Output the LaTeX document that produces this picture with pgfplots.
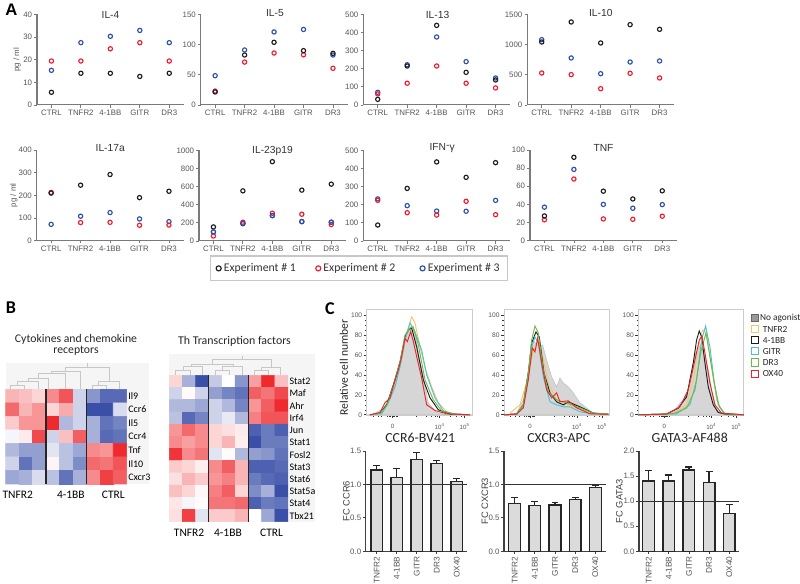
\documentclass[border=0pt]{standalone}
\usepackage{fontspec}
\setmainfont{Liberation Sans}
\newfontfamily\carlito{Carlito}
\usepackage{pgfplots}
\pgfplotsset{compat=1.18}

\definecolor{tickgray}{HTML}{555555}
\definecolor{axisgray}{HTML}{7A7A7A}
\definecolor{frame}{HTML}{CCCCCC}
\definecolor{expk}{HTML}{1C1C1C}
\definecolor{expr}{HTML}{EE1C2E}
\definecolor{expb}{HTML}{2E4FA8}
\definecolor{hgray}{HTML}{D6D6D6}
\definecolor{horange}{HTML}{F6C46A}
\definecolor{hcyan}{HTML}{4CC0D8}
\definecolor{hgreen}{HTML}{6DBB45}
\definecolor{hred}{HTML}{E8262D}

\pgfplotsset{
  every axis/.append style={/pgf/number format/assume math mode=true,/pgf/number format/1000 sep={}},
  every axis title shift=0pt,
  pos/.style 2 args={at={({#1*0.75pt},{(584-#2)*0.75pt})}},
  dots/.style={
    scale only axis,width=110.25pt,height=68pt,anchor=south west,
    axis x line=bottom,axis y line=left,
    axis line style={-,draw=axisgray},
    x axis line style={line width=.75pt},
    y axis line style={line width=1.1pt},
    xmin=-.49,xmax=4.5,ymin=0,
    xtick={0,1,2,3,4},xticklabels={CTRL,TNFR2,4-1BB,GITR,DR3},
    tick align=outside,major tick length=2pt,
    tick style={draw=axisgray,line width=.6pt},
    tick label style={font=\fontsize{5.9}{7}\selectfont,text=tickgray,inner sep=1.5pt},
    ylabel style={font=\fontsize{5.9}{7}\selectfont,text=tickgray},
  },
  ti/.style n args={3}{title={#1},title style={at={(axis description cs:#2,#3)},anchor=center,inner sep=0pt,font=\fontsize{7.7}{9}\selectfont,text=black!80}},
  ek/.style={only marks,mark=o,mark size=1.6pt,mark options={line width=.85pt,draw=expk}},
  er/.style={only marks,mark=o,mark size=1.6pt,mark options={line width=.85pt,draw=expr}},
  eb/.style={only marks,mark=o,mark size=1.6pt,mark options={line width=.85pt,draw=expb}},
  heat/.style={
    scale only axis,anchor=south west,y dir=reverse,
    enlargelimits=false,axis line style={draw=none},major tick length=0pt,
    tick style={draw=none},clip=false,
    colormap={bwr}{rgb255(0pt)=(58,80,168); rgb255(1pt)=(255,255,255); rgb255(2pt)=(238,42,46)},
    point meta min=-1,point meta max=1,
    yticklabel pos=right,
    y tick label style={font=\carlito\fontsize{7.5}{8}\selectfont,inner sep=1pt},
    x tick label style={font=\carlito\fontsize{8.6}{9}\selectfont,inner sep=2pt,yshift=-3pt},
  },
  cell/.style={matrix plot*,mesh/cols=9,point meta=explicit},
  sep/.style={black!85,line width=.8pt,forget plot},
  hist/.style={
    scale only axis,width=79.2pt,height=79.7pt,anchor=south west,
    xmin=0,xmax=317,ymin=-.5,ymax=106,
    axis line style={draw=frame,line width=.75pt},
    xtick pos=bottom,ytick pos=left,tick align=outside,
    xtick={78,219,294},xticklabels={0,10\textsuperscript{4},10\textsuperscript{5}},
    minor xtick={20,35,45,62,68,72,76,80,84,88,92,150,180,195,205,212,250,270,285},
    ytick={0,20,...,100},minor y tick num=3,
    major tick length=2.2pt,minor tick length=1.2pt,
    tick style={draw=black!80,line width=.45pt},
    y tick label style={font=\fontsize{5}{6}\selectfont,text=tickgray,inner sep=1pt},
    x tick label style={font=\fontsize{4.6}{6}\selectfont,text=tickgray,inner sep=0pt,yshift=-4pt},
  },
  hfill/.style={fill=hgray,draw=black!28,line width=.3pt},
  hl/.style={draw=#1,line width=.7pt,no marks},
  bars/.style={
    scale only axis,height=75.2pt,anchor=south west,
    axis x line=bottom,axis y line=left,axis line style={-,draw=black!75,line width=.8pt},
    ybar,bar width=8.8pt,ymin=0,
    xtick={0,1,2,3,4},xticklabels={TNFR2,4-1BB,GITR,DR3,OX40},
    tick align=outside,major tick length=2.2pt,
    tick style={draw=black!75,line width=.6pt},
    /pgf/number format/fixed,/pgf/number format/fixed zerofill,/pgf/number format/precision=1,
    y tick label style={font=\fontsize{5.9}{7}\selectfont,text=tickgray,inner sep=1pt},
    x tick label style={font=\fontsize{6.2}{7}\selectfont,text=tickgray,rotate=90,anchor=east,inner sep=1.5pt},
    ylabel style={font=\fontsize{7}{8}\selectfont,text=black!75},
  },
  bar/.style={fill=black!14,draw=black!85,line width=1pt,
    error bars/.cd,y dir=plus,y explicit,error bar style={draw=black!85,line width=.9pt},error mark options={rotate=90,mark size=2.6pt,line width=.9pt,draw=black!85}},
  one/.style={black!80,line width=.6pt,sharp plot,forget plot,no marks},
}

\begin{document}
\begin{tikzpicture}[x=.75pt,y=.75pt]
\path[use as bounding box] (0,0) rectangle (800,584);

% grey screenshot background and dendrograms of panel B
\begin{axis}[at={(0,0)},anchor=south west,scale only axis,width=600pt,height=438pt,
  xmin=0,xmax=800,ymin=0,ymax=584,y dir=reverse,hide axis,clip=false,unbounded coords=jump]
\addplot[fill=black!4,draw=none] coordinates {(5.7,362.7)(149.3,362.7)(149.3,484)(5.7,484)} --cycle;
\addplot[fill=black!4,draw=none] coordinates {(169.3,354)(315,354)(315,521.7)(169.3,521.7)} --cycle;
\addplot[draw=black!22,line width=.6pt] coordinates {
 (10.7,389.3)(10.7,385.3)(24,385.3)(24,389.3) (0,nan)
 (17.3,385.3)(17.3,381.3)(38.3,381.3)(38.3,389.3) (0,nan)
 (28.3,381.3)(28.3,378)(48.3,378)(48.3,389.3) (0,nan)
 (38.3,378)(38.3,373.7)(65,373.7)(65,389.3) (0,nan)
 (51.7,373.7)(51.7,371.3)(80,371.3)(80,389.3) (0,nan)
 (65.7,371.3)(65.7,367)(109.3,367)(109.3,381.3) (0,nan)
 (98.3,381.3)(119.3,381.3)(119.3,389.3) (0,nan)
 (98.3,381.3)(98.3,385.3)(92.3,385.3)(92.3,389.3) (0,nan)
 (98.3,385.3)(106,385.3)(106,389.3) (0,nan)
 (87.3,367)(87.3,363)};
\addplot[draw=black!22,line width=.6pt] coordinates {
 (175.7,375.3)(175.7,370.7)(190,370.7)(190,375.3) (0,nan)
 (183.3,370.7)(183.3,366.7)(202.3,366.7)(202.3,375.3) (0,nan)
 (215.7,375.3)(215.7,370.7)(229,370.7)(229,375.3) (0,nan)
 (222.3,370.7)(222.3,366.7)(242.3,366.7)(242.3,375.3) (0,nan)
 (191.7,366.7)(191.7,364)(233.3,364)(233.3,366.7) (0,nan)
 (212.7,364)(212.7,359.3)(271.7,359.3)(271.7,367.3) (0,nan)
 (261.7,367.3)(280,367.3)(280,375.3) (0,nan)
 (261.7,367.3)(261.7,370.7)(254.3,370.7)(254.3,375.3) (0,nan)
 (261.7,370.7)(268.3,370.7)(268.3,375.3) (0,nan)
 (242.3,359.3)(242.3,355.7)};
\end{axis}

% ---- panel A, first row
\begin{axis}[dots,pos={37}{105},ymax=40,ytick={0,10,...,40},ti={IL-4}{.5}{.994},
  ylabel={pg / ml},ylabel style={at={(axis description cs:-.136,.5)},anchor=center}]
\addplot[eb] coordinates {(0,15.3)(1,27.5)(2,30.3)(3,32.9)(4,27.5)};
\addplot[er] coordinates {(0,19.4)(1,19.4)(2,24.8)(3,27.5)(4,19.4)};
\addplot[ek] coordinates {(0,5.6)(1,14)(2,14)(3,12.6)(4,14)};
\end{axis}
\begin{axis}[dots,pos={200.7}{105},ymax=150,ytick={0,50,100,150},ti={IL-5}{.505}{1.017}]
\addplot[eb] coordinates {(0,48.5)(1,91)(2,120.8)(3,125)(4,82.7)};
\addplot[er] coordinates {(0,23)(1,71)(2,86)(3,83)(4,60.7)};
\addplot[ek] coordinates {(0,21.5)(1,82.7)(2,103.7)(3,89.9)(4,85.5)};
\end{axis}
\begin{axis}[dots,pos={363.3}{105},ymax=500,ytick={0,100,...,500},ti={IL-13}{.505}{.998}]
\addplot[eb] coordinates {(0,70)(1,222)(2,375)(3,239)(4,149)};
\addplot[ek] coordinates {(0,31)(1,215)(2,439)(3,180)(4,138)};
\addplot[er] coordinates {(0,61)(1,120)(2,215)(3,120)(4,94)};
\end{axis}
\begin{axis}[dots,pos={527.3}{105},ymax=1500,ytick={0,500,1000,1500},ti={IL-10}{.5}{1.017}]
\addplot[eb] coordinates {(0,1081)(1,778)(2,518)(3,711)(4,728)};
\addplot[er] coordinates {(0,529)(1,502)(2,270)(3,524)(4,447)};
\addplot[ek] coordinates {(0,1042)(1,1373)(2,1026)(3,1329)(4,1252)};
\end{axis}

% ---- panel A, second row
\begin{axis}[dots,pos={36.7}{240.7},ymax=400,ytick={0,100,...,400},ti={IL-17a}{.5}{1.02},
  ylabel={pg / ml},ylabel style={at={(axis description cs:-.156,.5)},anchor=center}]
\addplot[eb] coordinates {(0,72)(1,108)(2,124)(3,96)(4,84)};
\addplot[er] coordinates {(0,213)(1,80)(2,81)(3,68)(4,69)};
\addplot[ek] coordinates {(0,210)(1,245)(2,292)(3,190)(4,218)};
\end{axis}
\begin{axis}[dots,pos={199}{241},ymax=1000,ytick={0,200,...,1000},ti={IL-23p19}{.5}{.997},
  legend columns=3,
  legend image code/.code={\draw[#1] plot coordinates {(.08cm,0cm)};},
  legend image post style={mark size=1.9pt},
  legend style={at={(axis description cs:1.09,-.302)},anchor=center,draw=black!22,line width=.9pt,fill=white,
    font=\carlito\fontsize{8.8}{10}\selectfont,text=black!80,inner xsep=4pt,inner ysep=3.5pt,
    /tikz/column 2/.style={column sep=13pt},
    /tikz/column 4/.style={column sep=16.5pt}}]
\addplot[ek] coordinates {(0,155)(1,553)(2,875)(3,561)(4,627)};
\addplot[eb,forget plot] coordinates {(0,100)(1,192)(2,280)(3,214)(4,207)};
\addplot[er] coordinates {(0,55)(1,207)(2,306)(3,295)(4,181)};
\addplot[eb] coordinates {(0,100)(1,192)(2,280)(3,214)(4,207)};
\legend{Experiment \# 1,Experiment \# 2,Experiment \# 3}
\end{axis}
\begin{axis}[dots,pos={363.3}{241},ymax=500,ytick={0,100,...,500},ti={IFN\raisebox{1.5pt}{-}γ}{.536}{1.02}]
\addplot[eb] coordinates {(0,232)(1,195)(2,165)(3,164)(4,224)};
\addplot[er] coordinates {(0,224)(1,156)(2,143)(3,219)(4,145)};
\addplot[ek] coordinates {(0,88)(1,290)(2,436)(3,351)(4,432)};
\end{axis}
\begin{axis}[dots,pos={530}{240.7},ymax=100,ytick={0,20,...,100},ti={TNF}{.5}{1.02}]
\addplot[eb] coordinates {(0,37)(1,78.6)(2,40)(3,35.8)(4,39.8)};
\addplot[er] coordinates {(0,23)(1,68)(2,24)(3,23.6)(4,27)};
\addplot[ek] coordinates {(0,27.3)(1,92)(2,54.6)(3,46)(4,55)};
\end{axis}

% ---- panel B, heat maps
\begin{axis}[heat,pos={5.7}{484},width=90.75pt,height=71pt,
  xmin=-.5,xmax=8.5,ymin=-.5,ymax=6.5,
  ytick={0,...,6},yticklabels={Il9,Ccr6,Il5,Ccr4,Tnf,Il10,Cxcr3},
  xtick={.4,4.35,7.5},xticklabels={TNFR2,4-1BB,CTRL}]
\addplot[cell] coordinates {
 (0,0)[.35](1,0)[.3](2,0)[.2](3,0)[.55](4,0)[.8](5,0)[-.25](6,0)[-.6](7,0)[-.85](8,0)[-.85]
 (0,1)[.7](1,1)[.35](2,1)[.5](3,1)[.2](4,1)[.4](5,1)[-.25](6,1)[-1](7,1)[-1](8,1)[-.2]
 (0,2)[.25](1,2)[.5](2,2)[.5](3,2)[1](4,2)[-.4](5,2)[-.25](6,2)[-.45](7,2)[-.8](8,2)[-.7]
 (0,3)[-.05](1,3)[.1](2,3)[.85](3,3)[-.25](4,3)[.3](5,3)[.75](6,3)[-.45](7,3)[-.85](8,3)[-.8]
 (0,4)[-.4](1,4)[-.55](2,4)[-.55](3,4)[-.15](4,4)[-.35](5,4)[-.5](6,4)[.55](7,4)[.5](8,4)[1]
 (0,5)[-.25](1,5)[-.8](2,5)[-.55](3,5)[.05](4,5)[-.35](5,5)[-.65](6,5)[.7](7,5)[.65](8,5)[.8]
 (0,6)[-.5](1,6)[-.45](2,6)[-.2](3,6)[-.35](4,6)[-.8](5,6)[-.45](6,6)[.55](7,6)[.9](8,6)[.75]};
\addplot[sep] coordinates {(2.5,-.5)(2.5,6.5)};
\addplot[sep] coordinates {(5.5,-.5)(5.5,6.5)};
\end{axis}
\begin{axis}[heat,pos={169.3}{521.7},width=89pt,height=109.8pt,
  xmin=-.5,xmax=8.5,ymin=-.5,ymax=11.5,
  ytick={0,...,11},yticklabels={Stat2,Maf,Ahr,Irf4,Jun,Stat1,Fosl2,Stat3,Stat6,Stat5a,Stat4,Tbx21},
  xtick={1,3.95,7.26},xticklabels={TNFR2,4-1BB,CTRL}]
\addplot[cell] coordinates {
 (0,0)[.2](1,0)[-.45](2,0)[-1](3,0)[-.3](4,0)[0](5,0)[-.6](6,0)[.45](7,0)[1](8,0)[.3]
 (0,1)[-.25](1,1)[.02](2,1)[-.25](3,1)[-.55](4,1)[-.7](5,1)[-.8](6,1)[.75](7,1)[.65](8,1)[.85]
 (0,2)[-.4](1,2)[-.4](2,2)[-.5](3,2)[-.25](4,2)[-.4](5,2)[-.7](6,2)[.5](7,2)[.75](8,2)[1]
 (0,3)[-.35](1,3)[-.85](2,3)[-.7](3,3)[-.25](4,3)[-.12](5,3)[-.4](6,3)[.6](7,3)[.8](8,3)[.8]
 (0,4)[.5](1,4)[.7](2,4)[.55](3,4)[.2](4,4)[.15](5,4)[.1](6,4)[-.9](7,4)[-.75](8,4)[-.9]
 (0,5)[.55](1,5)[.45](2,5)[.55](3,5)[.2](4,5)[.35](5,5)[.08](6,5)[-1](7,5)[-.75](8,5)[-.75]
 (0,6)[.95](1,6)[.55](2,6)[.65](3,6)[-.15](4,6)[.02](5,6)[-.4](6,6)[-.55](7,6)[-.6](8,6)[-.8]
 (0,7)[.25](1,7)[.2](2,7)[.08](3,7)[.55](4,7)[.75](5,7)[.35](6,7)[-.9](7,7)[-.9](8,7)[-.85]
 (0,8)[.15](1,8)[.35](2,8)[.25](3,8)[.5](4,8)[.6](5,8)[.35](6,8)[-.75](7,8)[-.85](8,8)[-.9]
 (0,9)[.3](1,9)[.2](2,9)[.04](3,9)[.6](4,9)[.75](5,9)[.2](6,9)[-.65](7,9)[-.45](8,9)[-1]
 (0,10)[.12](1,10)[-.05](2,10)[.02](3,10)[.65](4,10)[.65](5,10)[.7](6,10)[-.9](7,10)[-.75](8,10)[-.8]
 (0,11)[.15](1,11)[.9](2,11)[-.15](3,11)[.25](4,11)[.25](5,11)[.35](6,11)[0](7,11)[-.5](8,11)[-1]};
\addplot[sep] coordinates {(2.5,-.5)(2.5,11.5)};
\addplot[sep] coordinates {(5.5,-.5)(5.5,11.5)};
\end{axis}

% ---- panel C, histograms
\begin{axis}[hist,pos={366.7}{415.3}]
\addplot[hfill] coordinates {(0,0)(20,.3)(50,6.7)(70,16.7)(80,28.3)(95,45)(105,58.3)(115,76.7)(125,83.3)(135,90)(145,81.7)(155,61.7)(170,38.3)(185,11.7)(210,2.3)(240,.3)(317,0)} --cycle;
\addplot[hl=horange] coordinates {(20,.5)(50,3)(80,25)(105,55)(120,82)(135,98)(145,92)(160,68)(175,47)(195,28)(215,12)(240,3)(270,.5)(315,0)};
\addplot[hl=expk] coordinates {(10,0)(40,1.7)(60,10)(80,30)(100,53)(115,78)(125,85)(135,87)(150,68)(170,35)(190,17)(215,5)(250,.7)(310,0)};
\addplot[hl=hcyan] coordinates {(10,0)(45,1)(65,12)(85,28)(100,48)(115,75)(130,92)(145,83)(165,65)(180,40)(205,17)(230,4)(260,1)(310,0)};
\addplot[hl=hgreen] coordinates {(10,0)(40,1.5)(60,9)(80,29)(100,53)(115,80)(130,87)(140,88)(155,70)(175,35)(200,15)(225,4)(260,.7)(310,0)};
\addplot[hl=hred] coordinates {(10,0)(40,2.3)(55,12.3)(70,16.7)(80,29)(95,45)(105,58.3)(115,76.7)(122,73.3)(132,83.3)(140,73.3)(150,58.3)(165,36.7)(180,10)(205,4.3)(240,1)(310,0)};
\end{axis}
\begin{axis}[hist,pos={504}{415.3}]
\addplot[hfill] coordinates {(0,0)(38,1.7)(58,15)(73,45)(88,75)(103,68)(116,70)(128,55)(143,38)(158,28)(168,37)(178,32)(193,28)(208,22)(228,12)(268,1.7)(317,0)} --cycle;
\addplot[hl=horange] coordinates {(18,1.7)(48,10)(73,38)(88,65)(103,72)(118,55)(133,32)(158,15)(208,8)(268,1)(313,.5)};
\addplot[hl=expk] coordinates {(0,0)(38,.7)(58,10)(73,42)(83,72)(96,83)(106,78)(120,42)(138,22)(158,13)(178,10)(193,13)(228,8)(268,1.7)(313,.7)};
\addplot[hl=hcyan] coordinates {(0,0)(38,.7)(58,9)(73,40)(83,68)(93,78)(103,72)(118,38)(138,13)(158,10)(178,8)(198,8)(228,3)(268,1)(313,.5)};
\addplot[hl=hgreen] coordinates {(0,0)(38,.7)(58,10)(73,42)(83,75)(93,89)(103,82)(118,45)(133,23)(158,15)(188,12)(228,7)(268,1.7)(313,1)};
\addplot[hl=hred] coordinates {(0,0)(38,.7)(58,7)(73,35)(85,67)(93,63)(101,77)(113,52)(128,25)(143,17)(158,22)(168,13)(193,14)(218,7)(258,1)(313,.5)};
\end{axis}
\begin{axis}[hist,pos={638.3}{415.3},
  legend image code/.code={\draw[#1,line width=.8pt] (0cm,-.07cm) rectangle (.19cm,.12cm);},
  legend cell align=left,
  legend style={at={(axis description cs:1.06,.96)},anchor=north west,draw=none,fill=none,inner sep=0pt,
    font=\carlito\fontsize{7}{8}\selectfont,text=black!85,row sep=1.3pt,
    nodes={inner sep=0pt,text height=5pt,text depth=1.6pt},
    /tikz/every odd column/.append style={column sep=1pt}}]
\addplot[hfill,forget plot] coordinates {(0,0)(55,.7)(105,2.3)(125,11.7)(140,16.7)(155,31.7)(170,60)(180,66.7)(190,71.7)(200,58)(210,45)(220,25)(235,5)(255,1)(317,0)} --cycle;
\addplot[fill=black!40,draw=black!60,line width=.3pt] coordinates {(0,-5)(1,-5)};
\addplot[hl=horange] coordinates {(0,0)(105,1)(145,10)(165,35)(180,68)(193,85)(205,82)(220,48)(235,15)(255,1.7)(317,0)};
\addplot[hl=expk] coordinates {(0,0)(85,.7)(120,6.7)(145,18)(165,52)(175,75)(183,84)(190,78)(200,52)(210,28)(225,10)(240,2.3)(265,.3)(317,0)};
\addplot[hl=hcyan] coordinates {(0,0)(115,1)(155,10)(175,35)(190,75)(202,89)(215,68)(227,35)(240,10)(260,1)(317,0)};
\addplot[hl=hgreen] coordinates {(0,0)(105,1)(145,6.7)(170,25)(187,62)(203,82)(215,58)(230,28)(243,8)(260,1)(317,0)};
\addplot[hl=hred] coordinates {(0,0)(85,.7)(125,8)(150,25)(170,55)(183,75)(191,79)(200,62)(215,32)(230,10)(250,1.7)(317,0)};
\legend{No agonist,\hspace{2pt}TNFR2,\hspace{2pt}4-1BB,\hspace{2pt}GITR,\hspace{2pt}DR3,\hspace{2pt}OX40}
\end{axis}

% ---- panel C, bars
\begin{axis}[bars,pos={365.7}{551.3},width=76.2pt,xmin=-.55,xmax=4.52,ymax=1.5,ytick={0,.5,1,1.5},
  ylabel={FC CCR6},ylabel style={at={(axis description cs:-.19,.5)},anchor=center}]
\addplot[bar] coordinates {(0,1.216) +- (0,.069) (1,1.106) +- (0,.134) (2,1.375) +- (0,.105) (3,1.31) +- (0,.05) (4,1.04) +- (0,.046)};
\addplot[one] coordinates {(-.55,1)(4.52,1)};
\end{axis}
\begin{axis}[bars,pos={504}{551.3},width=76.5pt,xmin=-.53,xmax=4.53,ymax=1.5,ytick={0,.5,1,1.5},
  ylabel={FC CXCR3},ylabel style={at={(axis description cs:-.186,.5)},anchor=center}]
\addplot[bar] coordinates {(0,.717) +- (0,.09) (1,.688) +- (0,.059) (2,.693) +- (0,.034) (3,.772) +- (0,.028) (4,.957) +- (0,.03)};
\addplot[one] coordinates {(-.53,1)(4.53,1)};
\end{axis}
\begin{axis}[bars,pos={639}{551.3},width=75.2pt,xmin=-.48,xmax=4.5,ymax=2,ytick={0,.5,1,1.5,2},
  ylabel={FC GATA3},ylabel style={at={(axis description cs:-.196,.5)},anchor=center}]
\addplot[bar] coordinates {(0,1.4) +- (0,.213) (1,1.4) +- (0,.12) (2,1.62) +- (0,.06) (3,1.367) +- (0,.226) (4,.76) +- (0,.173)};
\addplot[one] coordinates {(-.48,1)(4.5,1)};
\end{axis}

% ---- text
\node[font=\bfseries\fontsize{12.5}{13}\selectfont] at (11.5,584-9.5) {A};
\node[font=\carlito\bfseries\fontsize{13.5}{14}\selectfont] at (11,584-308) {B};
\node[font=\carlito\bfseries\fontsize{13.5}{14}\selectfont] at (330,584-309) {C};
\node[font=\carlito\fontsize{8.8}{8.8}\selectfont,align=center,text=black!85] at (76,584-345) {Cytokines and chemokine\\receptors};
\node[font=\carlito\fontsize{8.9}{10}\selectfont,text=black!85] at (234.5,584-341) {Th Transcription factors};
\node[font=\carlito\fontsize{8.7}{10}\selectfont,rotate=90,text=black!85] at (344,584-367.3) {Relative cell number};
\node[font=\carlito\fontsize{10.4}{12}\selectfont,text=black!85] at (420.3,584-438.3) {CCR6-BV421};
\node[font=\carlito\fontsize{10.4}{12}\selectfont,text=black!85] at (558.8,584-438.3) {CXCR3-APC};
\node[font=\carlito\fontsize{10.4}{12}\selectfont,text=black!85] at (689.7,584-438.3) {GATA3-AF488};
\end{tikzpicture}
\end{document}
